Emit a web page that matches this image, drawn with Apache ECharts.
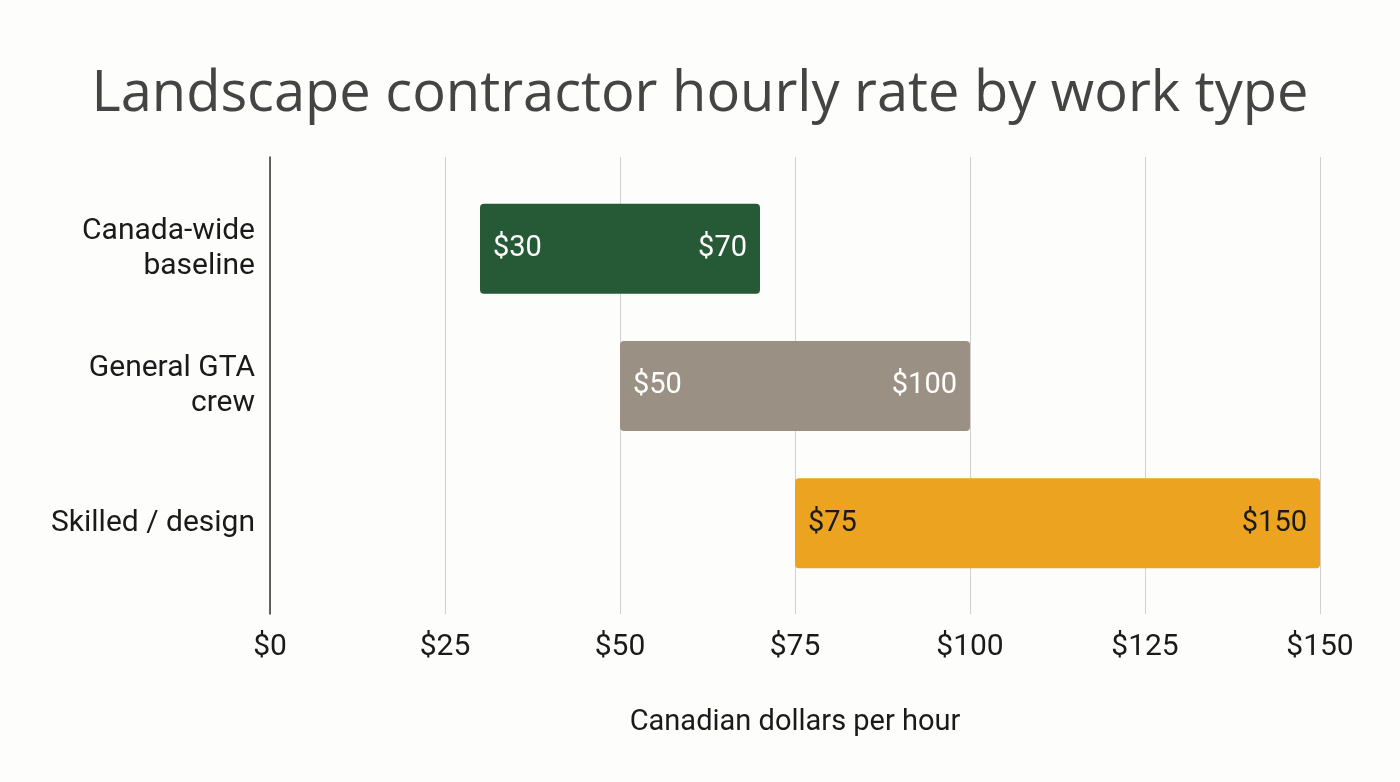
<!DOCTYPE html>
<html>
<head>
<meta charset="utf-8">
<script src="https://cdn.jsdelivr.net/npm/echarts@6/dist/echarts.min.js"></script>
<style>
  html, body { margin: 0; padding: 0; background: #fdfdfc; }
  #main { width: 1400px; height: 782px; }
</style>
</head>
<body>
<div id="main"></div>
<script>
// chart data
var categories = ['Canada-wide\nbaseline', 'General GTA\ncrew', 'Skilled / design'];
var lowValues = [30, 50, 75];
var highValues = [70, 100, 150];
var barColors = ['#265a36', '#9a9084', '#eba320'];
var labelColors = ['#ffffff', '#ffffff', '#1a1a1a'];
var xTicks = [0, 25, 50, 75, 100, 125, 150];

var myChart = echarts.init(document.getElementById('main'));

var rangeData = categories.map(function (c, i) {
  return [i, lowValues[i], highValues[i]];
});

myChart.setOption({
  backgroundColor: '#fdfdfc',
  title: {
    text: 'Landscape contractor hourly rate by work type',
    left: 'center',
    top: 62,
    textStyle: {
      fontFamily: 'Open Sans',
      fontWeight: 'normal',
      fontSize: 56,
      color: '#444444'
    }
  },
  grid: [
    // outer grid: grid lines, ticks and the left axis line
    { left: 270, right: 80, top: 157, bottom: 168 },
    // inner grid: the category bands
    { left: 270, right: 80, top: 180, bottom: 190 }
  ],
  xAxis: [
    {
      gridIndex: 0,
      type: 'value',
      min: xTicks[0],
      max: xTicks[xTicks.length - 1],
      interval: 25,
      axisLine: { show: false },
      axisTick: { show: false },
      splitLine: { show: true, lineStyle: { color: '#d0d0d0', width: 1 } },
      axisLabel: {
        formatter: '${value}',
        fontFamily: 'Roboto',
        fontSize: 30,
        color: '#1a1a1a',
        margin: 18
      },
      name: 'Canadian dollars per hour',
      nameLocation: 'middle',
      nameGap: 94,
      nameTextStyle: {
        fontFamily: 'Roboto',
        fontSize: 29,
        color: '#1a1a1a'
      }
    },
    {
      gridIndex: 1,
      type: 'value',
      min: xTicks[0],
      max: xTicks[xTicks.length - 1],
      show: false
    }
  ],
  yAxis: [
    {
      gridIndex: 0,
      type: 'value',
      min: 0,
      max: 1,
      axisLine: { show: true, lineStyle: { color: '#333333', width: 1.5 } },
      axisTick: { show: false },
      axisLabel: { show: false },
      splitLine: { show: false }
    },
    {
      gridIndex: 1,
      type: 'category',
      inverse: true,
      data: categories,
      axisLine: { show: false },
      axisTick: { show: false },
      axisLabel: {
        fontFamily: 'Roboto',
        fontSize: 30,
        lineHeight: 35,
        color: '#1a1a1a',
        align: 'right',
        margin: 15
      }
    }
  ],
  series: [
    {
      type: 'custom',
      xAxisIndex: 1,
      yAxisIndex: 1,
      data: rangeData,
      renderItem: function (params, api) {
        var i = api.value(0);
        var start = api.coord([api.value(1), i]);
        var end = api.coord([api.value(2), i]);
        var bandH = api.size([0, 1])[1];
        var h = bandH * 0.655;
        var color = barColors[i];
        var txtColor = labelColors[i];
        return {
          type: 'group',
          children: [
            {
              type: 'rect',
              shape: { x: start[0], y: start[1] - h / 2, width: end[0] - start[0], height: h, r: 4 },
              style: { fill: color }
            },
            {
              type: 'text',
              style: {
                text: '$' + api.value(1),
                x: start[0] + 13,
                y: start[1],
                align: 'left',
                verticalAlign: 'middle',
                fill: txtColor,
                font: '29px Roboto'
              }
            },
            {
              type: 'text',
              style: {
                text: '$' + api.value(2),
                x: end[0] - 13,
                y: end[1],
                align: 'right',
                verticalAlign: 'middle',
                fill: txtColor,
                font: '29px Roboto'
              }
            }
          ]
        };
      }
    }
  ]
});
</script>
</body>
</html>
